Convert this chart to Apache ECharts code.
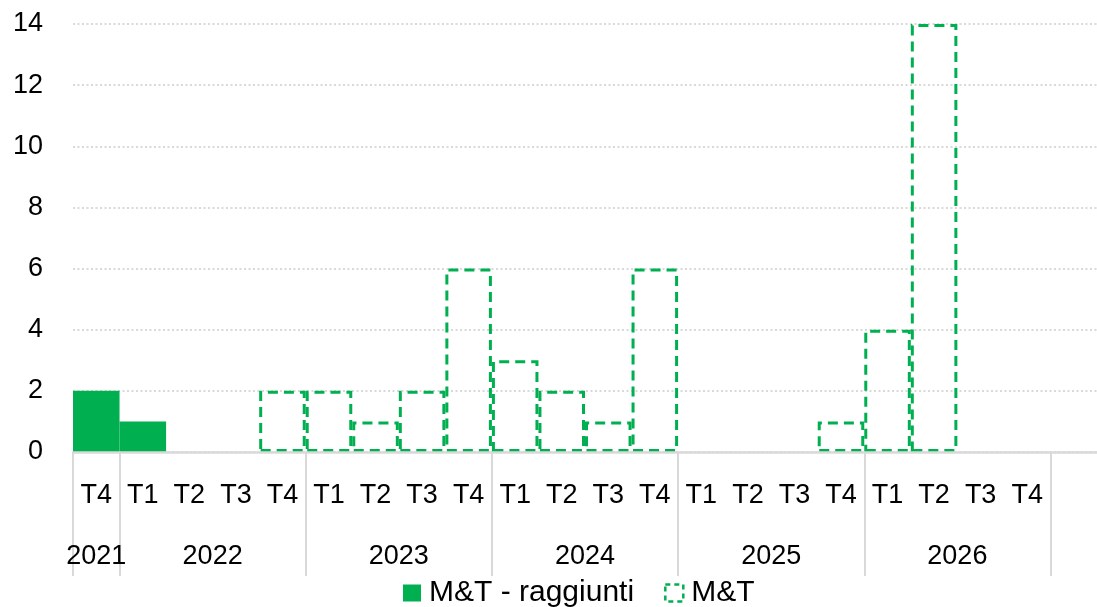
<!DOCTYPE html>
<html>
<head>
<meta charset="utf-8">
<script src="https://cdn.jsdelivr.net/npm/echarts@6/dist/echarts.min.js"></script>
<style>
  html, body { margin: 0; padding: 0; background: #fff; }
  #chart { width: 1097px; height: 607px; }
</style>
</head>
<body>
<div id="chart"></div>
<script>
// quarters on the axis (last slot is an empty spacer, as in the original)
const quarters = ["T4", "T1", "T2", "T3", "T4", "T1", "T2", "T3", "T4", "T1", "T2", "T3", "T4",
  "T1", "T2", "T3", "T4", "T1", "T2", "T3", "T4", ""];
const years = ["2021", "2022", "2023", "2024", "2025", "2026"];
const yearSpans = [1, 4, 4, 4, 4, 4];

const raggiunti = [2, 1, null, null, null, null, null, null, null, null, null, null, null,
  null, null, null, null, null, null, null, null, null];
const mt = [null, null, null, null, 2, 2, 1, 2, 6, 3, 2, 1, 6,
  null, null, null, 1, 4, 14, null, null, null];

const yTicks = [0, 2, 4, 6, 8, 10, 12, 14];

const green = "#00b050";
const axisGrey = "#d9d9d9";
const font = "Liberation Sans";

// year group boundaries and centres, in category units
const yearBounds = [0];
const yearCenters = {};
let pos = 0;
years.forEach((y, i) => {
  yearCenters[pos + yearSpans[i] / 2] = y;
  pos += yearSpans[i];
  yearBounds.push(pos);
});

const chart = echarts.init(document.getElementById("chart"));
chart.setOption({
  animation: false,
  grid: { left: 73, right: -6, top: 24, bottom: 155, containLabel: false },
  legend: {
    left: 403,
    top: 578,
    padding: 0,
    itemWidth: 18,
    itemHeight: 17,
    itemGap: 30,
    icon: "rect",
    textStyle: { fontFamily: font, fontSize: 30, color: "#000", padding: [0, 0, 0, 3] },
    data: [
      { name: "M&T - raggiunti" },
      {
        name: "M&T",
        itemStyle: { color: "rgba(0,0,0,0)", borderColor: green, borderWidth: 2.5, borderType: [5, 4] }
      }
    ]
  },
  xAxis: [
    {
      type: "category",
      data: quarters,
      boundaryGap: true,
      z: 5,
      axisLine: { lineStyle: { color: axisGrey, width: 2.5 } },
      axisTick: { show: false },
      axisLabel: { interval: 0, margin: 30, fontFamily: font, fontSize: 27, color: "#000" },
      splitLine: { show: false }
    },
    {
      type: "value",
      position: "bottom",
      min: 0,
      max: quarters.length,
      axisLine: { show: false },
      splitLine: { show: false },
      axisTick: {
        show: true,
        customValues: yearBounds,
        length: 124,
        lineStyle: { color: axisGrey, width: 2 }
      },
      axisLabel: {
        customValues: Object.keys(yearCenters).map(Number),
        formatter: v => yearCenters[v] || "",
        margin: 91,
        fontFamily: font,
        fontSize: 27,
        color: "#000"
      }
    }
  ],
  yAxis: {
    type: "value",
    min: 0,
    max: 14,
    interval: 2,
    axisLine: { show: false },
    axisTick: { show: false },
    axisLabel: {
      margin: 30,
      fontFamily: font,
      fontSize: 27,
      color: "#000",
      formatter: v => (yTicks.includes(v) ? String(v) : "")
    },
    splitLine: { lineStyle: { color: axisGrey, width: 2, type: [2, 2.5] } }
  },
  series: [
    {
      name: "M&T - raggiunti",
      type: "bar",
      data: raggiunti,
      barCategoryGap: 0,
      barGap: "-100%",
      itemStyle: { color: green }
    },
    {
      name: "M&T",
      type: "bar",
      data: mt,
      barCategoryGap: 0,
      barGap: "-100%",
      itemStyle: {
        color: "rgba(0,0,0,0)",
        borderColor: green,
        borderWidth: 3,
        borderType: [10, 6]
      }
    }
  ]
});
</script>
</body>
</html>
